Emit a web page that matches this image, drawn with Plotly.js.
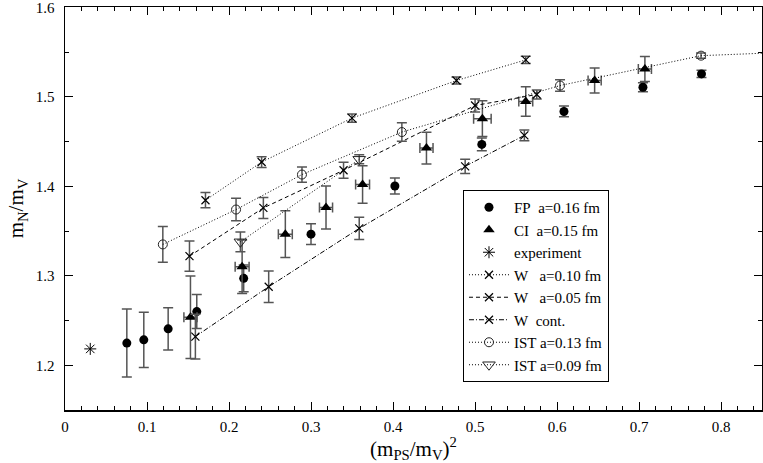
<!DOCTYPE html>
<html>
<head>
<meta charset="utf-8">
<script src="https://cdn.plot.ly/plotly-3.0.1.min.js"></script>
<style>
  html, body { margin: 0; padding: 0; background: #fff; }
  #plot { width: 763px; height: 463px; }
</style>
</head>
<body>
<div id="plot"></div>
<script>
// values: x = (mPS/mV)^2, y = mN/mV
const fpX   = [0.0754, 0.0961, 0.1258, 0.1607, 0.2179, 0.300, 0.4023, 0.5083, 0.6085, 0.7048, 0.7762];
const fpY   = [1.2248, 1.2284, 1.2407, 1.2600, 1.2972, 1.3466, 1.4004, 1.4469, 1.4837, 1.5108, 1.5257];
const fpErr = [0.038, 0.031, 0.0235, 0.019, 0.015, 0.0115, 0.009, 0.0072, 0.006, 0.005, 0.004];

const ciX    = [0.153, 0.216, 0.2687, 0.3183, 0.3629, 0.4408, 0.509, 0.5619, 0.6459, 0.7072];
const ciY    = [1.2537, 1.3101, 1.3466, 1.3764, 1.4020, 1.4428, 1.4756, 1.4949, 1.5183, 1.5313];
const ciErr  = [0.046, 0.030, 0.026, 0.024, 0.021, 0.0177, 0.020, 0.0165, 0.014, 0.014];
const ciXErr = [0.008, 0.0085, 0.0085, 0.008, 0.0085, 0.008, 0.0107, 0.0085, 0.008, 0.008];

const expX = [0.0308];
const expY = [1.2183];

const w10X   = [0.1713, 0.2398, 0.350, 0.4774, 0.5619];
const w10Y   = [1.3845, 1.4272, 1.4763, 1.5183, 1.5414];
const w10Err = [0.0085, 0.006, 0.0047, 0.004, 0.004];

const w05X   = [0.1518, 0.2419, 0.3397, 0.5001, 0.5753];
const w05Y   = [1.3220, 1.3759, 1.4180, 1.4904, 1.5027];
const w05Err = [0.017, 0.0117, 0.009, 0.0072, 0.005];

const wcX   = [0.159, 0.2484, 0.3588, 0.488, 0.5602];
const wcY   = [1.2321, 1.2878, 1.3530, 1.4224, 1.4570];
const wcErr = [0.025, 0.0177, 0.0125, 0.008, 0.006];

// last IST a=0.13 point lies beyond the right edge, only its line shows
const ist13X   = [0.1193, 0.2086, 0.289, 0.4108, 0.6037, 0.7757, 0.90];
const ist13Y   = [1.3351, 1.3741, 1.4132, 1.4607, 1.5127, 1.5461, 1.5506];
const ist13Err = [0.020, 0.0125, 0.0085, 0.0104, 0.0065, 0.003, 0.003];

const ist09X   = [0.2139, 0.3588];
const ist09Y   = [1.338, 1.4302];
const ist09Err = [0.011, 0.005];

const serif = '"Liberation Serif", serif';
const barCol = '#555';

function ebar(arr) {
  return { type: 'data', array: arr, visible: true, color: barCol, thickness: 1.5, width: 5 };
}

const wMarker = { symbol: 'x-thin-open', size: 8, color: '#000', line: { width: 1.2, color: '#000' } };

const traces = [
  {
    x: fpX, y: fpY, name: 'FP\u00a0\u00a0a=0.16 fm', type: 'scatter', mode: 'markers',
    marker: { symbol: 'circle', size: 9, color: '#000' },
    error_y: ebar(fpErr),
    error_x: { type: 'constant', value: 0.003, visible: true, color: barCol, thickness: 1.2, width: 3 }
  },
  {
    x: ciX, y: ciY, name: 'CI\u00a0\u00a0a=0.15 fm', type: 'scatter', mode: 'markers',
    marker: { symbol: 'triangle-up', size: 10, color: '#000' },
    error_y: ebar(ciErr),
    error_x: { type: 'data', array: ciXErr, visible: true, color: barCol, thickness: 1.5, width: 5 }
  },
  {
    x: expX, y: expY, name: 'experiment', type: 'scatter', mode: 'markers',
    marker: { symbol: 'asterisk-open', size: 10, color: '#000', line: { width: 1, color: '#000' } }
  },
  {
    x: w10X, y: w10Y, name: 'W\u00a0\u00a0\u00a0a=0.10 fm', type: 'scatter', mode: 'lines+markers',
    line: { dash: '1px,2px', width: 1, color: '#000' },
    marker: wMarker,
    error_y: ebar(w10Err)
  },
  {
    x: w05X, y: w05Y, name: 'W\u00a0\u00a0\u00a0a=0.05 fm', type: 'scatter', mode: 'lines+markers',
    line: { dash: '4px,3px', width: 1, color: '#000' },
    marker: wMarker,
    error_y: ebar(w05Err)
  },
  {
    x: wcX, y: wcY, name: 'W\u00a0\u00a0cont.', type: 'scatter', mode: 'lines+markers',
    line: { dash: '5px,2px,1px,2px', width: 1, color: '#000' },
    marker: wMarker,
    error_y: ebar(wcErr)
  },
  {
    x: ist13X, y: ist13Y, name: 'IST a=0.13 fm', type: 'scatter', mode: 'lines+markers',
    line: { dash: '1px,2px', width: 1, color: '#000' },
    marker: { symbol: 'circle-open', size: 9, color: '#222', line: { width: 1, color: '#222' } },
    error_y: ebar(ist13Err)
  },
  {
    x: ist09X, y: ist09Y, name: 'IST a=0.09 fm', type: 'scatter', mode: 'lines+markers',
    line: { dash: '1px,2px', width: 1, color: '#000' },
    marker: { symbol: 'triangle-down-open', size: 11, color: '#222', line: { width: 1, color: '#222' } },
    error_y: ebar(ist09Err)
  }
];

const axisCommon = {
  showline: true, mirror: 'allticks', linecolor: '#000', linewidth: 1.5,
  ticks: 'inside', ticklen: 8, tickwidth: 1, tickcolor: '#000',
  showgrid: false, zeroline: false, ticklabeloverflow: 'allow',
  tickfont: { family: serif, size: 15, color: '#000' }
};

const layout = {
  width: 763, height: 463,
  margin: { l: 65, r: 1, t: 7, b: 53 },
  paper_bgcolor: '#fff', plot_bgcolor: '#fff',
  showlegend: true,
  xaxis: Object.assign({}, axisCommon, {
    range: [0, 0.85], tick0: 0, dtick: 0.1,
    minor: { dtick: 0.02, ticks: 'inside', ticklen: 4, tickcolor: '#000', tickwidth: 1 },
    ticklabelstandoff: 2,
    title: { text: '(m<sub>PS</sub>/m<sub>V</sub>)<sup>2</sup>', font: { family: serif, size: 21, color: '#000' }, standoff: 4 }
  }),
  yaxis: Object.assign({}, axisCommon, {
    range: [1.15, 1.6005], tick0: 1.2, dtick: 0.1,
    minor: { dtick: 0.05, ticks: 'inside', ticklen: 4, tickcolor: '#000', tickwidth: 1 },
    ticklabelstandoff: 6,
    title: { text: 'm<sub>N</sub>/m<sub>V</sub>', font: { family: serif, size: 21, color: '#000' }, standoff: 6 }
  }),
  legend: {
    x: 0.571, xanchor: 'left', y: 0.3077, yanchor: 'middle',
    bgcolor: '#fff', bordercolor: '#000', borderwidth: 1,
    font: { family: serif, size: 15, color: '#000' },
    itemwidth: 40, tracegroupgap: 0
  }
};

Plotly.newPlot('plot', traces, layout, { staticPlot: true, displayModeBar: false });
</script>
</body>
</html>
